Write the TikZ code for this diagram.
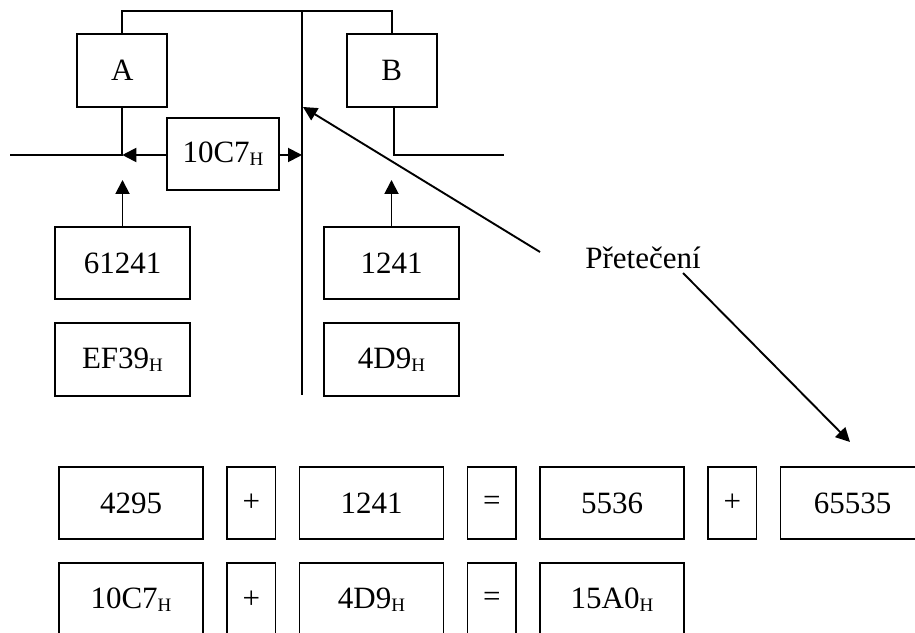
\documentclass[tikz,border=0pt]{standalone}
\usepackage{fontspec}
\setmainfont{Liberation Serif}
\usetikzlibrary{arrows.meta, positioning}
\newcommand{\hx}{\raisebox{-3pt}{\fontsize{19}{19}\selectfont H}}

\begin{document}
\begin{tikzpicture}[
    x=1pt, y=1pt,
    node distance=24pt,
    line width=1.9pt,
    every node/.style={font=\fontsize{31}{34}\selectfont, outer sep=0pt},
    reg/.style={rectangle, draw, minimum width=90pt, minimum height=72.6pt},
    res/.style={rectangle, draw, minimum width=112.6pt, minimum height=72.4pt},
    val/.style={rectangle, draw, minimum width=135pt, minimum height=72.4pt},
    num/.style={rectangle, draw, minimum width=144pt, minimum height=72.6pt},
    op/.style={rectangle, draw, minimum width=48.5pt, minimum height=72.6pt},
    arr/.style={-{Triangle[length=14pt,width=14pt]}}
]
\useasboundingbox (0,0) rectangle (915,632);

% Registers and the main bus
\node[reg] (reg-a) at (122.3,561.3) {A};
\node[reg] (reg-b) at (391.7,561.3) {B};
\coordinate (bus-top) at (302,621);
\coordinate (bus-bot) at (302,237);
\draw (reg-a.north) |- (bus-top) -| (reg-b.north);
\draw (bus-top) -- (bus-bot);

% Result on the inner bus
\coordinate (bus-l) at (10,477);
\coordinate (bus-r) at (504,477);
\node[res] (sum) at (223,478) {10C7\hx};
\draw (reg-a.south) -- (reg-a.south |- bus-l) -- (bus-l);
\draw[arr] (sum.west |- bus-l) -- (reg-a.south |- bus-l);
\draw[arr] (sum.east |- bus-l) -- (bus-top |- bus-l);
\draw ([xshift=2.5pt]reg-b.south) |- (bus-r);

% Operands
\coordinate (load) at (0,452);
\node[val] (val-a) at (122.5,369) {61241};
\node[val, below=of val-a] (hex-a) {EF39\hx};
\node[val] (val-b) at (391.5,369) {1241};
\node[val, below=of val-b] (hex-b) {4D9\hx};
\draw[arr] (val-a.north) -- (val-a.north |- load);
\draw[arr] (val-b.north) -- (val-b.north |- load);

% Overflow
\node (ovf) at (643,374) {Přetečení};
\coordinate (ovf-l) at (540,380);
\coordinate (ovf-bus) at (303,525);
\coordinate (ovf-r) at (683,359);
\coordinate (ovf-num) at (850,190);
\draw[arr] (ovf-l) -- (ovf-bus);
\draw[arr] (ovf-r) -- (ovf-num);

% Decimal sum
\node[num] (dec-a) at (131,129) {4295};
\node[op, right=of dec-a] (dec-plus) {+};
\node[num, right=of dec-plus] (dec-b) {1241};
\node[op, right=of dec-b] (dec-eq) {=};
\node[num, right=of dec-eq] (dec-sum) {5536};
\node[op, right=of dec-sum] (dec-plus2) {+};
\node[num, right=of dec-plus2] (dec-ovf) {65535};

% Hexadecimal sum
\node[num, below=of dec-a] (hex-sa) {10C7\hx};
\node[op, right=of hex-sa] (hex-plus) {+};
\node[num, right=of hex-plus] (hex-sb) {4D9\hx};
\node[op, right=of hex-sb] (hex-eq) {=};
\node[num, right=of hex-eq] (hex-sum) {15A0\hx};

\end{tikzpicture}
\end{document}
